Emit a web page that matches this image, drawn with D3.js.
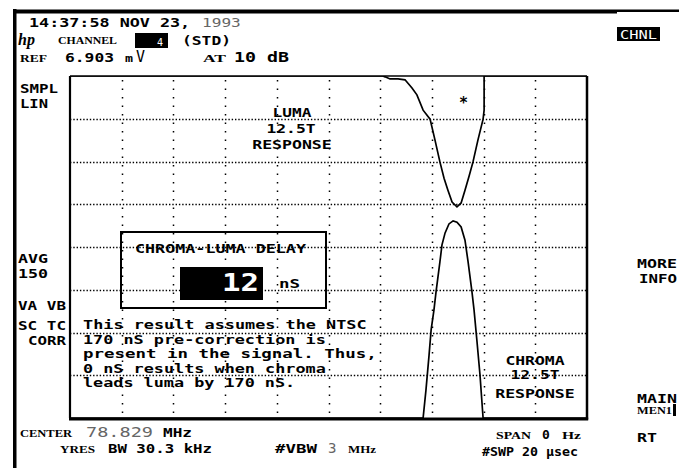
<!DOCTYPE html>
<html><head><meta charset="utf-8">
<script src="https://cdn.jsdelivr.net/npm/d3@7"></script>
<style>
html,body{margin:0;padding:0;background:#fff;}
svg{display:block;}
</style></head>
<body>
<script>
// ---------- data ----------
const sweepTime = 20;          // µs, full span (0 Hz span, time domain)
const refLevel = 6.903;        // mV, top of screen (linear scale)
const xDivisions = [2,4,6,8,10,12,14,16,18];   // µs
const yDivisions = [1,2,3,4,5,6,7];            // graticule divisions (of 8)

// Luma 12.5T trace (time µs, level mV)
const lumaTime  = [0, 12.10, 12.19, 12.38, 12.69, 12.96, 13.23, 13.42, 13.66, 13.93, 14.12, 14.31, 14.47, 14.62, 14.78, 14.97, 15.13, 15.28, 15.44, 15.59, 15.78, 15.98, 16.02, 16.02, 20];
const lumaLevel = [6.903, 6.903, 6.886, 6.843, 6.843, 6.826, 6.661, 6.523, 6.213, 6.032, 5.609, 5.169, 4.841, 4.599, 4.358, 4.263, 4.340, 4.599, 4.884, 5.169, 5.609, 6.032, 6.213, 6.903, 6.903];

// Chroma 12.5T trace (time µs, level mV)
const chromaTime  = [0, 13.66, 13.77, 13.89, 13.97, 14.08, 14.16, 14.31, 14.39, 14.51, 14.66, 14.82, 14.97, 15.13, 15.28, 15.40, 15.55, 15.63, 15.74, 15.86, 15.98, 20];
const chromaLevel = [0, 0, 0.561, 1.268, 1.778, 2.183, 2.546, 3.150, 3.495, 3.736, 3.917, 3.978, 3.952, 3.857, 3.590, 3.150, 2.546, 2.183, 1.570, 0.872, 0, 0];

const markerTime = 15.22, markerLevel = 6.44;
const delayValue = "12";
const messageLines = [
  "This result assumes the NTSC",
  "170 nS pre-correction is",
  "present in the signal.  Thus,",
  "0 nS results when chroma",
  "leads luma by 170 nS."
];

// ---------- drawing ----------
const W = 679, H = 468;
const svg = d3.select("body").append("svg").attr("width", W).attr("height", H);
const plot = {left:70, right:587, top:76, bottom:418};
const x = d3.scaleLinear().domain([0, sweepTime]).range([plot.left, plot.right]);
const y = d3.scaleLinear().domain([0, refLevel]).range([plot.bottom, plot.top]);

const MONO = "'DejaVu Sans Mono', monospace";
const SERIF = "'Liberation Serif', serif";

function txt(px, py, s, o = {}) {
  const t = svg.append("text")
    .attr("x", px).attr("y", py)
    .attr("font-family", o.family || MONO)
    .attr("font-size", o.size || 13)
    .attr("font-weight", o.weight || "bold")
    .attr("fill", o.fill || "#000")
    .text(s);
  if (o.len) t.attr("textLength", o.len).attr("lengthAdjust", o.adjust || "spacingAndGlyphs");
  if (o.anchor) t.attr("text-anchor", o.anchor);
  return t;
}
const P = 10.2; // character pitch of the analyzer font
const L = s => s.length * P - 2;

// frame bars
svg.append("rect").attr("x", 13).attr("y", 9).attr("width", 3.5).attr("height", H - 9).attr("fill", "#000");
svg.append("rect").attr("x", 13).attr("y", 9.5).attr("width", 604).attr("height", 4).attr("fill", "#000");
svg.append("rect").attr("x", 617).attr("y", 9.5).attr("width", 62).attr("height", 2.5).attr("fill", "#000");

// clip
svg.append("clipPath").attr("id", "clip").append("rect")
  .attr("x", plot.left).attr("y", plot.top)
  .attr("width", plot.right - plot.left).attr("height", plot.bottom - plot.top);

// grid
const grid = svg.append("g");
grid.selectAll(".vg").data(xDivisions).join("line")
  .attr("x1", d => Math.round(x(d)) + 0.5).attr("x2", d => Math.round(x(d)) + 0.5)
  .attr("y1", plot.top + 4).attr("y2", plot.bottom)
  .attr("stroke", "#000").attr("stroke-width", 1.5).attr("stroke-dasharray", "1.5,7");
grid.selectAll(".hg").data(yDivisions).join("line")
  .attr("y1", d => Math.round(y(d * refLevel / 8)) + 0.5).attr("y2", d => Math.round(y(d * refLevel / 8)) + 0.5)
  .attr("x1", plot.left).attr("x2", plot.right)
  .attr("stroke", "#000").attr("stroke-width", 1.3).attr("stroke-dasharray", "1.4,1.9");

// graticule borders
svg.append("line").attr("x1", plot.left).attr("x2", plot.right).attr("y1", plot.top).attr("y2", plot.top).attr("stroke", "#000").attr("stroke-width", 1.5);
svg.append("line").attr("x1", plot.left).attr("x2", plot.left).attr("y1", plot.top).attr("y2", plot.bottom).attr("stroke", "#000").attr("stroke-width", 2.2);
svg.append("line").attr("x1", plot.right).attr("x2", plot.right).attr("y1", plot.top).attr("y2", plot.bottom + 1.5).attr("stroke", "#000").attr("stroke-width", 2.5);
svg.append("line").attr("x1", plot.left - 1).attr("x2", plot.right + 1.2).attr("y1", plot.bottom + 1).attr("y2", plot.bottom + 1).attr("stroke", "#000").attr("stroke-width", 3);

// traces
const line = d3.line().x(d => x(d[0])).y(d => y(d[1]));
const traces = svg.append("g").attr("clip-path", "url(#clip)");
traces.append("path").datum(d3.zip(lumaTime, lumaLevel)).attr("d", line)
  .attr("fill", "none").attr("stroke", "#000").attr("stroke-width", 1.7);
traces.append("path").datum(d3.zip(chromaTime, chromaLevel)).attr("d", line)
  .attr("fill", "none").attr("stroke", "#000").attr("stroke-width", 1.7);

// marker
txt(x(markerTime), y(markerLevel) + 9, "*", {size: 15, anchor: "middle"});

// trace labels
txt(292, 117, "LUMA", {anchor: "middle", len: L("LUMA")});
txt(291, 133, "12.5T", {anchor: "middle", len: L("12.5T")});
txt(292, 149, "RESPONSE", {anchor: "middle", len: L("RESPONSE")});
txt(535, 365, "CHROMA", {anchor: "middle", len: L("CHROMA")});
txt(535, 379, "12.5T", {anchor: "middle", len: L("12.5T")});
txt(535, 398, "RESPONSE", {anchor: "middle", len: L("RESPONSE")});

// delay box
svg.append("rect").attr("x", 121).attr("y", 232).attr("width", 205).attr("height", 76)
  .attr("fill", "none").attr("stroke", "#000").attr("stroke-width", 2);
txt(135, 253, "CHROMA-LUMA DELAY", {len: 171});
svg.append("rect").attr("x", 180).attr("y", 267).attr("width", 83).attr("height", 33).attr("fill", "#000");
txt(222, 291, delayValue, {size: 25, weight: "bold", fill: "#fff", len: 37});
txt(279, 288, "nS", {len: 21});

// message
messageLines.forEach((s, i) => {
  txt(83, 329 + i * 14.6, s, {len: L(s)});
});

// header
txt(29, 27, "14:37:58 NOV 23,", {len: L("14:37:58 NOV 23,")});
txt(202, 27, "1993", {weight: "normal", fill: "#666", len: L("1993")});
txt(18, 45, "hp", {family: SERIF, size: 16, weight: "bold"}).attr("font-style", "italic");
txt(58, 44, "CHANNEL", {family: SERIF, size: 11, len: 59});
svg.append("rect").attr("x", 135).attr("y", 33).attr("width", 33).attr("height", 15).attr("fill", "#000");
txt(157, 46, "4", {size: 10, weight: "normal", fill: "#fff"});
txt(182, 45, "(STD)", {len: L("(STD)")});
txt(20, 62, "REF", {family: SERIF, size: 11, len: 27});
txt(65, 62, "6.903", {len: L("6.903")});
txt(125, 62, "m", {size: 11, len: 8});
txt(136, 62, "V", {size: 16, weight: "normal", len: 9});
txt(203, 62, "AT", {family: SERIF, size: 11, len: 23});
txt(234, 62, "10 dB", {size: 14, len: 55});

// left annotations
txt(20, 93, "SMPL", {len: 38});
txt(20, 108, "LIN", {len: 28});
txt(18, 263, "AVG", {len: 30});
txt(18, 278, "150", {len: 30});
txt(18, 310, "VA VB", {len: 48});
txt(18, 330, "SC TC", {len: 48});
txt(28, 345, "CORR", {len: 38});

// softkeys
svg.append("rect").attr("x", 617).attr("y", 27).attr("width", 43).attr("height", 14).attr("fill", "#000");
txt(620, 39, "CHNL", {size: 12, weight: "normal", fill: "#fff", len: 37});
txt(637, 268, "MORE", {len: 40});
txt(639, 283, "INFO", {len: 38});
txt(637, 403, "MAIN", {len: 40});
txt(637, 414, "MEN1", {family: SERIF, size: 10, len: 35});
svg.append("rect").attr("x", 673).attr("y", 404).attr("width", 3).attr("height", 12).attr("fill", "#000");
txt(637, 442, "RT", {len: 20});

// footer
txt(20, 437, "CENTER", {family: SERIF, size: 11, len: 52});
txt(86, 437, "78.829", {size: 14, weight: "normal", fill: "#666", len: 67});
txt(163, 437, "MHz", {len: 29});
txt(60, 453, "YRES", {family: SERIF, size: 11, len: 35});
txt(108, 453, "BW 30.3 kHz", {len: 104});
txt(275, 453, "#VBW", {len: 42});
txt(328, 453, "3", {size: 14, weight: "normal", fill: "#666"});
txt(348, 453, "MHz", {family: SERIF, size: 11, len: 28});
txt(496, 439, "SPAN", {family: SERIF, size: 11, len: 35});
txt(542, 439, "0", {size: 13});
txt(562, 439, "Hz", {family: SERIF, size: 11, len: 19});
txt(482, 456, "#SWP 20 µsec", {len: 96});
</script>
</body></html>
